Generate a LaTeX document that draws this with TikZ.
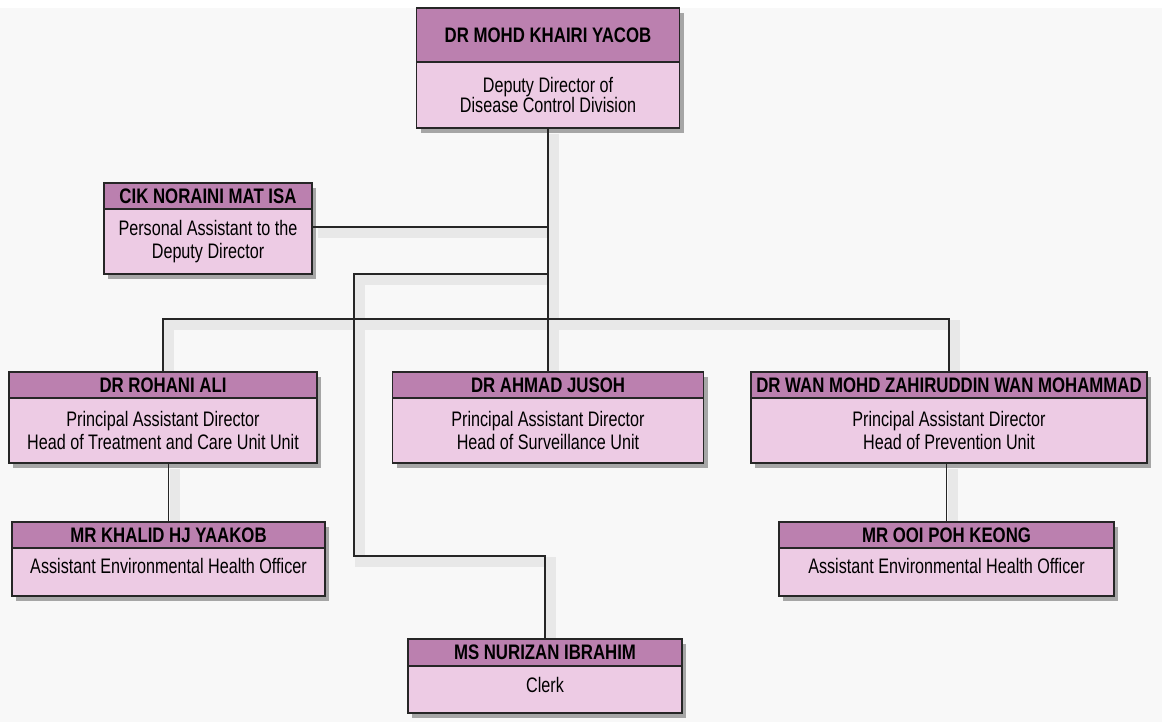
\documentclass[tikz,border=0pt]{standalone}
\usepackage{fontspec}
\setmainfont{Liberation Sans}[FakeStretch=0.77, BoldFeatures={FakeStretch=0.80}]
\usetikzlibrary{positioning, shadows, backgrounds}
\definecolor{headpink}{RGB}{187,128,175}
\definecolor{bodypink}{RGB}{237,203,228}
\definecolor{panelgray}{RGB}{248,248,248}
\definecolor{linkshade}{RGB}{232,232,232}
\tikzset{
    boxshadow/.style={drop shadow={shadow xshift=4pt, shadow yshift=-5pt, opacity=1, fill=black!35}}, % shadow under every box
    head/.style={draw=black!85, line width=1.6pt, fill=headpink, outer sep=0pt, inner sep=2pt, font=\bfseries\fontsize{21}{23}\selectfont, boxshadow}, % name bar
    body/.style={draw=black!85, line width=1.6pt, fill=bodypink, outer sep=0pt, align=center, font=\fontsize{21}{23}\selectfont, boxshadow}, % job title part
    oneline/.style={text height=15pt, text depth=12pt}, % single title line sits high
    link/.style={draw=black!85, line width=1.4pt},
    linkshadow/.style={draw=linkshade, line width=10pt},
}

\begin{document}
\begin{tikzpicture}[x=1pt, y=-1pt]
    \useasboundingbox (0,0) rectangle (1165,722);

    % deputy director and assistant
    \node[head, minimum width=263pt, minimum height=54pt, anchor=north] (dir) at (548,8) {DR MOHD KHAIRI YACOB};
    \node[body, minimum width=263pt, minimum height=66pt, below=0pt of dir, font=\fontsize{21}{18.5}\selectfont] (dirbody) {Deputy Director of\\Disease Control Division};
    \node[head, minimum width=208pt, minimum height=26pt, anchor=north] (pa) at (208,183) {CIK NORAINI MAT ISA};
    \node[body, minimum width=208pt, minimum height=65pt, below=0pt of pa] (pabody) {Personal Assistant to the\\Deputy Director};

    % unit heads
    \node[head, minimum width=308pt, minimum height=26pt, anchor=north] (rohani) at (163,372) {DR ROHANI ALI};
    \node[body, minimum width=308pt, minimum height=65pt, below=0pt of rohani] (rohanibody) {Principal Assistant Director\\Head of Treatment and Care Unit Unit};
    \node[head, minimum width=311pt, minimum height=26pt, anchor=north] (ahmad) at (548,372) {DR AHMAD JUSOH};
    \node[body, minimum width=311pt, minimum height=65pt, below=0pt of ahmad] (ahmadbody) {Principal Assistant Director\\Head of Surveillance Unit};
    \node[head, minimum width=396pt, minimum height=26pt, anchor=north] (wan) at (949,372) {DR WAN MOHD ZAHIRUDDIN WAN MOHAMMAD};
    \node[body, minimum width=396pt, minimum height=65pt, below=0pt of wan] (wanbody) {Principal Assistant Director\\Head of Prevention Unit};

    % officers and clerk
    \node[head, minimum width=313pt, minimum height=26pt, anchor=north] (khalid) at (168.5,522) {MR KHALID HJ YAAKOB};
    \node[body, oneline, minimum width=313pt, minimum height=48pt, below=0pt of khalid] (khalidbody) {Assistant Environmental Health Officer};
    \node[head, minimum width=335pt, minimum height=26pt, anchor=north] (ooi) at (946.5,522) {MR OOI POH KEONG};
    \node[body, oneline, minimum width=335pt, minimum height=48pt, below=0pt of ooi] (ooibody) {Assistant Environmental Health Officer};
    \node[head, minimum width=274pt, minimum height=27pt, anchor=north] (clerk) at (545,639) {MS NURIZAN IBRAHIM};
    \node[body, oneline, minimum width=274pt, minimum height=47pt, below=0pt of clerk, text depth=10pt] (clerkbody) {Clerk};

    \coordinate (pajoin) at (548,227);
    \coordinate (clerkjoin) at (548,274);
    \coordinate (branch) at (548,319);
    \coordinate (clerkbend) at (354,556);

    \begin{scope}[on background layer]
        \fill[panelgray] (0,8) rectangle (1162,722);
        \begin{scope}[transform canvas={xshift=6pt, yshift=-6pt}, linkshadow]
            \draw (dirbody.south) -- (ahmad.north);
            \draw (pajoin) -- (pajoin -| pabody.east);
            \draw (rohani.north) |- (branch) -| (wan.north);
            \draw (clerkjoin) -| (clerkbend) -| (clerk.north);
            \draw (khalid.north |- rohanibody.south) -- (khalid.north);
            \draw (ooi.north |- wanbody.south) -- (ooi.north);
        \end{scope}
    \end{scope}

    \draw[link] (dirbody.south) -- (ahmad.north);
    \draw[link] (pajoin) -- (pajoin -| pabody.east);
    \draw[link] (rohani.north) |- (branch) -| (wan.north);
    \draw[link] (clerkjoin) -| (clerkbend) -| (clerk.north);
    \draw[link] (khalid.north |- rohanibody.south) -- (khalid.north);
    \draw[link] (ooi.north |- wanbody.south) -- (ooi.north);
\end{tikzpicture}
\end{document}
